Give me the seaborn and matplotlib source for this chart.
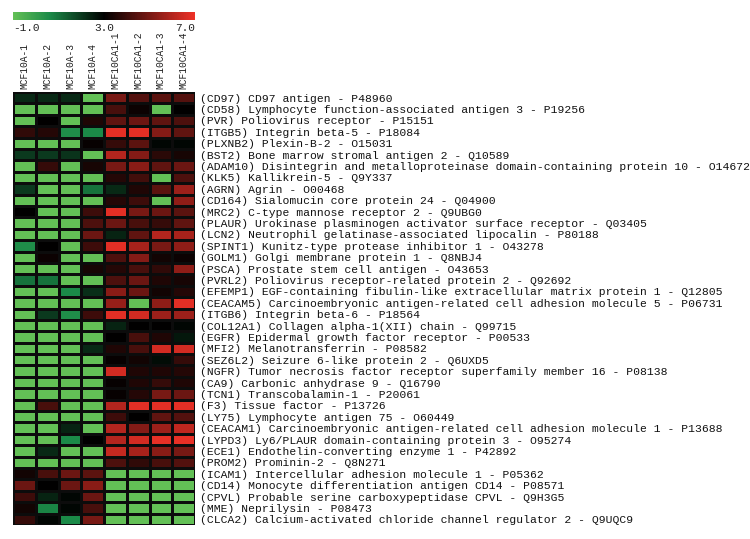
import matplotlib
matplotlib.use("Agg")
import matplotlib.pyplot as plt
from matplotlib.colors import LinearSegmentedColormap
import numpy as np
import pandas as pd
import seaborn as sns

SAMPLES = ["MCF10A-1", "MCF10A-2", "MCF10A-3", "MCF10A-4",
           "MCF10CA1-1", "MCF10CA1-2", "MCF10CA1-3", "MCF10CA1-4"]

PROTEINS = [
    "(CD97) CD97 antigen - P48960",
    "(CD58) Lymphocyte function-associated antigen 3 - P19256",
    "(PVR) Poliovirus receptor - P15151",
    "(ITGB5) Integrin beta-5 - P18084",
    "(PLXNB2) Plexin-B-2 - O15031",
    "(BST2) Bone marrow stromal antigen 2 - Q10589",
    "(ADAM10) Disintegrin and metalloproteinase domain-containing protein 10 - O14672",
    "(KLK5) Kallikrein-5 - Q9Y337",
    "(AGRN) Agrin - O00468",
    "(CD164) Sialomucin core protein 24 - Q04900",
    "(MRC2) C-type mannose receptor 2 - Q9UBG0",
    "(PLAUR) Urokinase plasminogen activator surface receptor - Q03405",
    "(LCN2) Neutrophil gelatinase-associated lipocalin - P80188",
    "(SPINT1) Kunitz-type protease inhibitor 1 - O43278",
    "(GOLM1) Golgi membrane protein 1 - Q8NBJ4",
    "(PSCA) Prostate stem cell antigen - O43653",
    "(PVRL2) Poliovirus receptor-related protein 2 - Q92692",
    "(EFEMP1) EGF-containing fibulin-like extracellular matrix protein 1 - Q12805",
    "(CEACAM5) Carcinoembryonic antigen-related cell adhesion molecule 5 - P06731",
    "(ITGB6) Integrin beta-6 - P18564",
    "(COL12A1) Collagen alpha-1(XII) chain - Q99715",
    "(EGFR) Epidermal growth factor receptor - P00533",
    "(MFI2) Melanotransferrin - P08582",
    "(SEZ6L2) Seizure 6-like protein 2 - Q6UXD5",
    "(NGFR) Tumor necrosis factor receptor superfamily member 16 - P08138",
    "(CA9) Carbonic anhydrase 9 - Q16790",
    "(TCN1) Transcobalamin-1 - P20061",
    "(F3) Tissue factor - P13726",
    "(LY75) Lymphocyte antigen 75 - O60449",
    "(CEACAM1) Carcinoembryonic antigen-related cell adhesion molecule 1 - P13688",
    "(LYPD3) Ly6/PLAUR domain-containing protein 3 - O95274",
    "(ECE1) Endothelin-converting enzyme 1 - P42892",
    "(PROM2) Prominin-2 - Q8N271",
    "(ICAM1) Intercellular adhesion molecule 1 - P05362",
    "(CD14) Monocyte differentiation antigen CD14 - P08571",
    "(CPVL) Probable serine carboxypeptidase CPVL - Q9H3G5",
    "(MME) Neprilysin - P08473",
    "(CLCA2) Calcium-activated chloride channel regulator 2 - Q9UQC9",
]

# expression per protein, MCF10A-1..4 then MCF10CA1-1..4
VALUES = [
    [2.3, 2.3, 2.3, -1, 5.0, 4.4, 4.5, 4.4],
    [-1, -1, -1, -1, 4.2, 3.2, -1, 3.0],
    [-1, 3.0, -1, 3.5, 4.6, 4.8, 4.6, 4.3],
    [3.8, 3.6, 0.5, 0.6, 6.8, 6.8, 5.2, 4.6],
    [-1, -1, -1, 3.1, 3.9, 4.5, 2.9, 2.9],
    [2.0, 2.0, 2.1, -1, 6.0, 5.2, 3.7, 3.4],
    [-1, 3.9, -1, 3.4, 5.0, 5.3, 4.6, 4.8],
    [-1, -1, -1, -1, 3.6, 4.1, -1, 4.3],
    [2.0, -1, -1, 1.0, 2.3, 3.5, 4.5, 5.6],
    [-1, -1, -1, -1, 3.6, 4.0, -1, 5.4],
    [3.0, -1, -1, 4.0, 6.8, 5.0, 4.8, 4.5],
    [-1, -1, -1, 4.3, 4.8, 4.2, 3.9, 4.6],
    [-1, -1, -1, 4.8, 2.4, 4.6, 6.0, 5.8],
    [0.5, 3.0, -1, 4.0, 6.8, 5.8, 5.0, 5.4],
    [-1, 3.2, -1, -1, 4.3, 5.2, 3.3, 3.2],
    [-1, -1, -1, 3.4, 3.6, 4.2, 3.8, 5.4],
    [1.0, 1.0, -1, -1, 4.3, 4.8, 3.5, 3.4],
    [-1, -1, 0.6, 2.2, 5.3, 4.8, 3.3, 3.6],
    [-1, -1, -1, -1, 5.5, -1, 5.4, 6.8],
    [-1, 2.0, 0.5, 4.0, 6.8, 6.5, 5.6, 5.6],
    [-1, -1, -1, -1, 2.4, 3.0, 3.0, 2.9],
    [-1, -1, -1, -1, 3.0, 4.2, 3.5, 2.6],
    [-1, -1, -1, 2.3, 3.5, 4.2, 6.5, 6.5],
    [-1, -1, -1, -1, 3.1, 3.3, 2.8, 3.9],
    [-1, -1, -1, -1, 6.5, 3.5, 3.5, 3.6],
    [-1, -1, -1, -1, 3.1, 3.5, 3.9, 3.5],
    [-1, -1, -1, -1, 3.1, 3.6, 5.0, 4.8],
    [-1, 4.2, -1, -1, 6.0, 6.8, 6.8, 6.8],
    [-1, -1, -1, -1, 4.0, 3.0, 4.6, 4.4],
    [-1, -1, 2.4, -1, 6.0, 5.2, 5.6, 6.2],
    [-1, -1, 0.6, 3.0, 6.0, 6.5, 6.9, 6.9],
    [-1, 2.3, -1, -1, 6.3, 5.8, 5.3, 5.0],
    [-1, -1, -1, -1, 4.3, 3.8, 4.2, 4.4],
    [3.3, 4.2, 4.8, 4.5, -1, -1, -1, -1],
    [4.8, 3.0, 4.8, 5.3, -1, -1, -1, -1],
    [4.0, 2.4, 2.9, 4.8, -1, -1, -1, -1],
    [3.3, 0.7, 2.9, 4.2, -1, -1, -1, -1],
    [3.9, 2.9, 0.6, 5.0, -1, -1, -1, -1],
]

CBAR_TICKS = [-1.0, 3.0, 7.0]
VMIN, VMAX = -1.0, 7.0

sns.set_style("white")
MONO = ["Liberation Mono", "DejaVu Sans Mono"]

cmap = LinearSegmentedColormap.from_list(
    "grn_blk_red",
    [(0.0, "#63c056"), (0.2, "#1b8a48"), (0.5, "#000000"), (1.0, "#ee3127")])

df = pd.DataFrame(VALUES, index=PROTEINS, columns=SAMPLES)

W, H = 750, 539
fig = plt.figure(figsize=(W / 100, H / 100), dpi=100)
ax = fig.add_axes([13 / W, 1 - 525 / H, 182 / W, 433 / H])
cax = fig.add_axes([13 / W, 1 - 20 / H, 182 / W, 8 / H])

sns.heatmap(df, ax=ax, cmap=cmap, vmin=VMIN, vmax=VMAX,
            linewidths=1.0, linecolor="#0c0c0c",
            cbar=True, cbar_ax=cax, cbar_kws={"orientation": "horizontal"},
            xticklabels=True, yticklabels=True)

# row labels on the right
ax.yaxis.tick_right()
ax.tick_params(axis="y", length=0, pad=3.5)
ax.set_yticklabels(PROTEINS, rotation=0, fontsize=8.2, family=MONO, color="#111111")

# sample labels on top
ax.xaxis.tick_top()
ax.tick_params(axis="x", length=0, pad=2)
ax.set_xticklabels(SAMPLES, rotation=90, fontsize=6.9, family=MONO, color="#222222")
ax.set_xlabel("")
ax.set_ylabel("")

# colour key
cbar = ax.collections[0].colorbar
cbar.outline.set_visible(False)
cbar.set_ticks(CBAR_TICKS)
cbar.set_ticklabels([f"{t:.1f}" for t in CBAR_TICKS])
cax.tick_params(axis="x", length=0, pad=2, labelsize=8)
labs = cax.get_xticklabels()
for lab in labs:
    lab.set_family(MONO)
    lab.set_color("#222222")
labs[0].set_horizontalalignment("left")
labs[-1].set_horizontalalignment("right")

fig.savefig("out.png", dpi=100)
